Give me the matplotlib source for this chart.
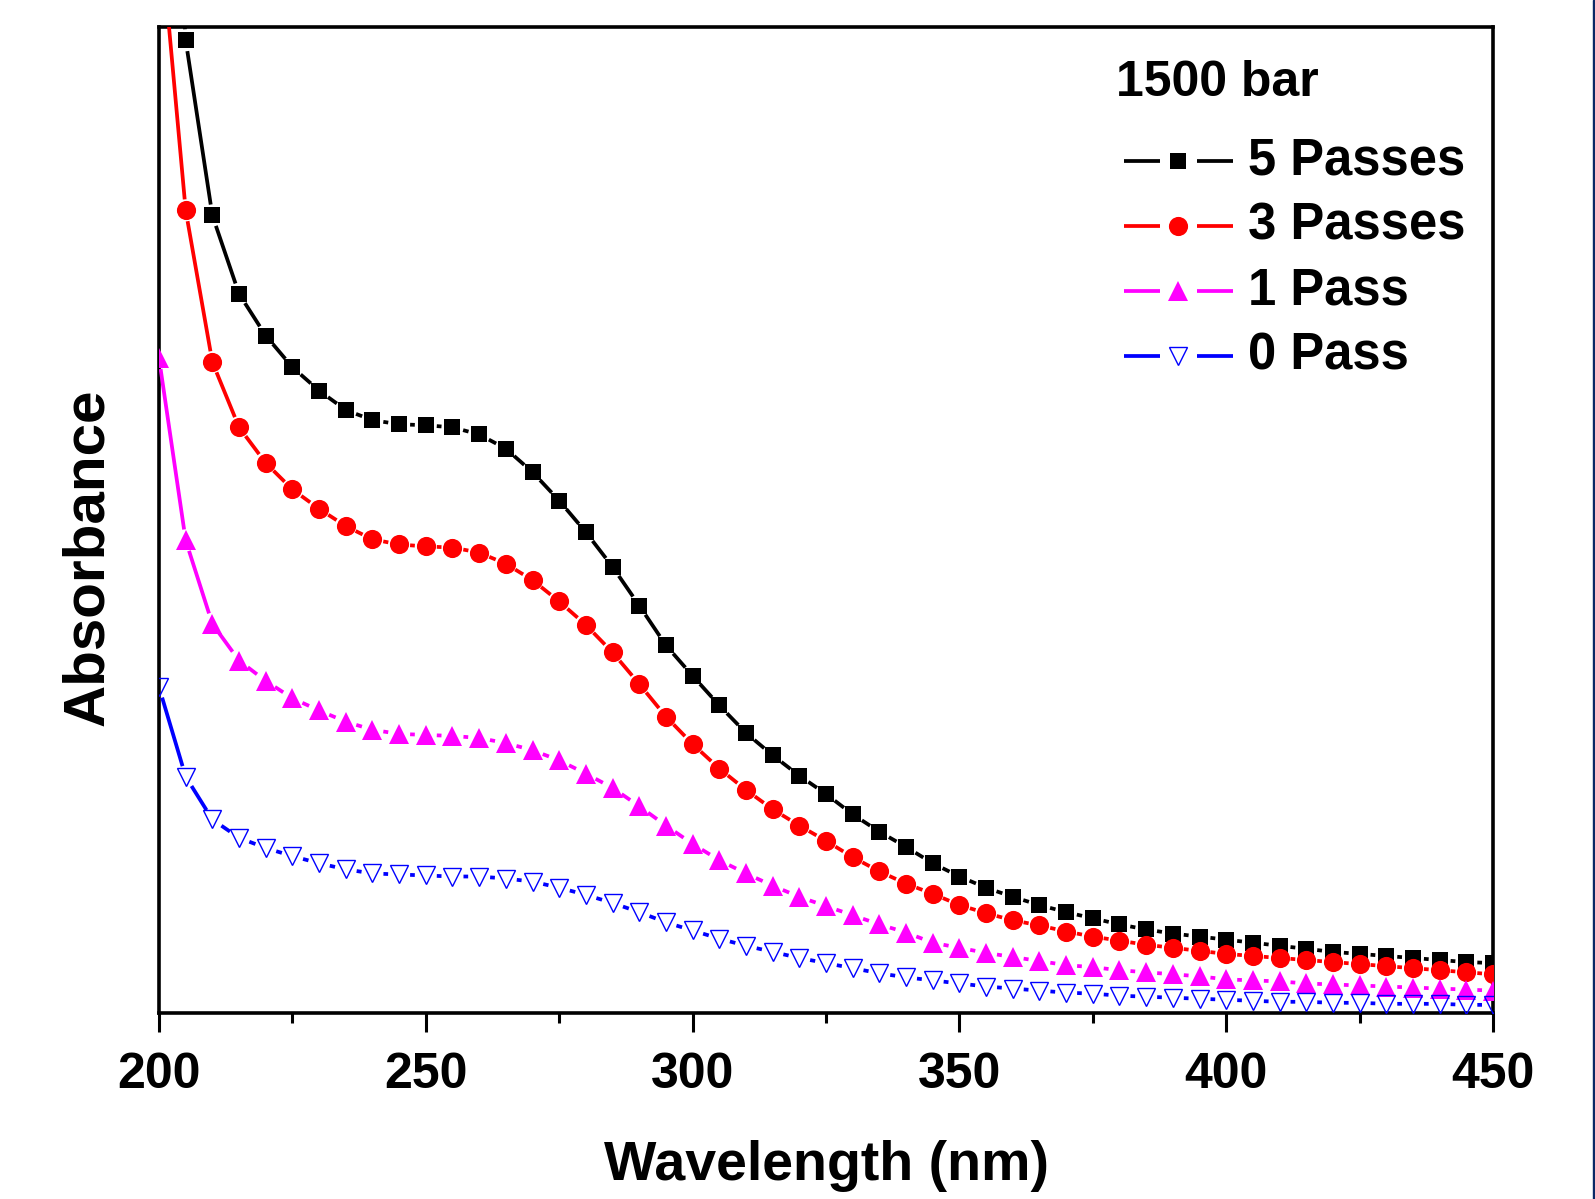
import numpy as np
import matplotlib
matplotlib.use("Agg")
import matplotlib.pyplot as plt
from matplotlib.lines import Line2D
from matplotlib.patches import Rectangle

plt.rcParams['font.family'] = ['Liberation Sans', 'DejaVu Sans']
plt.rcParams['font.weight'] = 'bold'

# wavelength (nm), absorbance in arbitrary units (no y scale shown)
wavelength = np.arange(200, 451, 5)

abs_5_passes = [1.400, 0.955, 0.783, 0.706, 0.665, 0.634, 0.611, 0.592, 0.582, 0.578,
                0.577, 0.575, 0.568, 0.554, 0.531, 0.503, 0.472, 0.438, 0.400, 0.361,
                0.331, 0.302, 0.275, 0.253, 0.233, 0.215, 0.195, 0.178, 0.163, 0.147,
                0.134, 0.123, 0.114, 0.106, 0.099, 0.093, 0.087, 0.082, 0.078, 0.075,
                0.072, 0.069, 0.066, 0.063, 0.060, 0.058, 0.056, 0.054, 0.052, 0.050,
                0.049]
abs_3_passes = [1.076, 0.788, 0.639, 0.575, 0.540, 0.514, 0.495, 0.478, 0.465, 0.460,
                0.458, 0.457, 0.452, 0.441, 0.425, 0.404, 0.381, 0.354, 0.323, 0.291,
                0.264, 0.240, 0.219, 0.200, 0.184, 0.169, 0.153, 0.139, 0.127, 0.117,
                0.106, 0.098, 0.091, 0.086, 0.080, 0.075, 0.071, 0.067, 0.064, 0.061,
                0.058, 0.056, 0.054, 0.052, 0.050, 0.048, 0.046, 0.044, 0.042, 0.040,
                0.038]
abs_1_pass = [0.643, 0.464, 0.382, 0.346, 0.326, 0.309, 0.297, 0.286, 0.278, 0.274,
              0.273, 0.272, 0.270, 0.265, 0.258, 0.248, 0.235, 0.221, 0.203, 0.184,
              0.166, 0.150, 0.137, 0.125, 0.114, 0.105, 0.096, 0.087, 0.079, 0.069,
              0.064, 0.059, 0.055, 0.051, 0.047, 0.045, 0.042, 0.040, 0.038, 0.036,
              0.033, 0.032, 0.031, 0.029, 0.028, 0.027, 0.026, 0.025, 0.024, 0.023,
              0.022]
abs_0_pass = [0.320, 0.232, 0.190, 0.172, 0.162, 0.154, 0.147, 0.141, 0.137, 0.136,
              0.135, 0.134, 0.134, 0.132, 0.129, 0.123, 0.116, 0.108, 0.099, 0.089,
              0.081, 0.073, 0.066, 0.060, 0.054, 0.049, 0.044, 0.039, 0.035, 0.032,
              0.029, 0.026, 0.024, 0.022, 0.020, 0.019, 0.017, 0.016, 0.015, 0.014,
              0.013, 0.012, 0.011, 0.011, 0.010, 0.010, 0.009, 0.009, 0.009, 0.008,
              0.008]

labels = ['5 Passes', '3 Passes', '1 Pass', '0 Pass']
series = [abs_5_passes, abs_3_passes, abs_1_pass, abs_0_pass]
styles = [
    dict(color='black', marker='s', ms=11.0, mfc='black', mew=0),
    dict(color='#ff0000', marker='o', ms=13.8, mfc='#ff0000', mew=0),
    dict(color='#ff00ff', marker='^', ms=14.2, mfc='#ff00ff', mew=0),
    dict(color='#0000ff', marker='v', ms=13.2, mfc='none', mew=1.0),
]
LW = 2.7
GAP = 11  # px gap between line and marker, Origin style

W, H = 1595, 1199
fig = plt.figure(figsize=(W / 100, H / 100), dpi=100)
ax = fig.add_axes([159 / W, 1 - 1013 / H, (1493 - 159) / W, (1013 - 27) / H])
ax.set_xlim(200, 450)
ax.set_ylim(0, 0.968)


def gapped_line(x, y, gap):
    # shorten each segment so the line stops short of the markers
    pts = ax.transData.transform(np.column_stack([x, y]))
    inv = ax.transData.inverted()
    xs, ys = [], []
    for p0, p1 in zip(pts[:-1], pts[1:]):
        d = p1 - p0
        L = np.hypot(*d)
        if L <= 2 * gap:
            continue
        u = d / L
        a, b = inv.transform(np.array([p0 + u * gap, p1 - u * gap]))
        xs += [a[0], b[0], np.nan]
        ys += [a[1], b[1], np.nan]
    return xs, ys


for i, (y, st) in enumerate(zip(series, styles)):
    lx, ly = gapped_line(wavelength, y, GAP)
    ax.plot(lx, ly, color=st['color'], lw=LW, solid_capstyle='butt', zorder=2 + 2 * i)
    ax.plot(wavelength, y, ls='none', marker=st['marker'], ms=st['ms'],
            mfc=st['mfc'], mec=st['color'], mew=st['mew'], zorder=3 + 2 * i)

ax.set_yticks([])
ax.set_xticks(np.arange(200, 451, 50))
ax.set_xticks(np.arange(225, 451, 50), minor=True)
ax.tick_params(axis='x', which='major', direction='out', length=14, width=2.2,
               labelsize=36, pad=14)
ax.tick_params(axis='x', which='minor', direction='out', length=7, width=2.2)
for lbl in ax.get_xticklabels():
    lbl.set_fontweight('bold')
for s in ax.spines.values():
    s.set_linewidth(2.6)

fig.text(826 / W, 1 - 1166 / H, 'Wavelength (nm)', fontsize=40, fontweight='bold',
         ha='center', va='center')
fig.text(88 / W, 1 - 557 / H, 'Absorbance', fontsize=42, fontweight='bold',
         ha='center', va='center', rotation=90)

# legend, drawn by hand to get the broken-line handles
fig.text(1116 / W, 1 - 83 / H, '1500 bar', fontsize=36, fontweight='bold',
         ha='left', va='center')
row_y = [161, 226, 291, 356]
for yy, lab, st in zip(row_y, labels, styles):
    fy = 1 - yy / H
    for x0, x1 in [(1124, 1160), (1197, 1233)]:
        fig.add_artist(Line2D([x0 / W, x1 / W], [fy, fy], color=st['color'], lw=LW,
                              solid_capstyle='butt', transform=fig.transFigure))
    fig.add_artist(Line2D([1178 / W], [fy], ls='none', marker=st['marker'], ms=st['ms'],
                          mfc=st['mfc'], mec=st['color'], mew=st['mew'],
                          transform=fig.transFigure))
    fig.text(1248 / W, fy, lab, fontsize=36.5, fontweight='bold', ha='left', va='center')

# thin dark border at the right edge of the original image
fig.add_artist(Rectangle((1593 / W, 0), 2 / W, 1, color='#0b2866',
                         transform=fig.transFigure))

fig.savefig('out.png', dpi=100)
